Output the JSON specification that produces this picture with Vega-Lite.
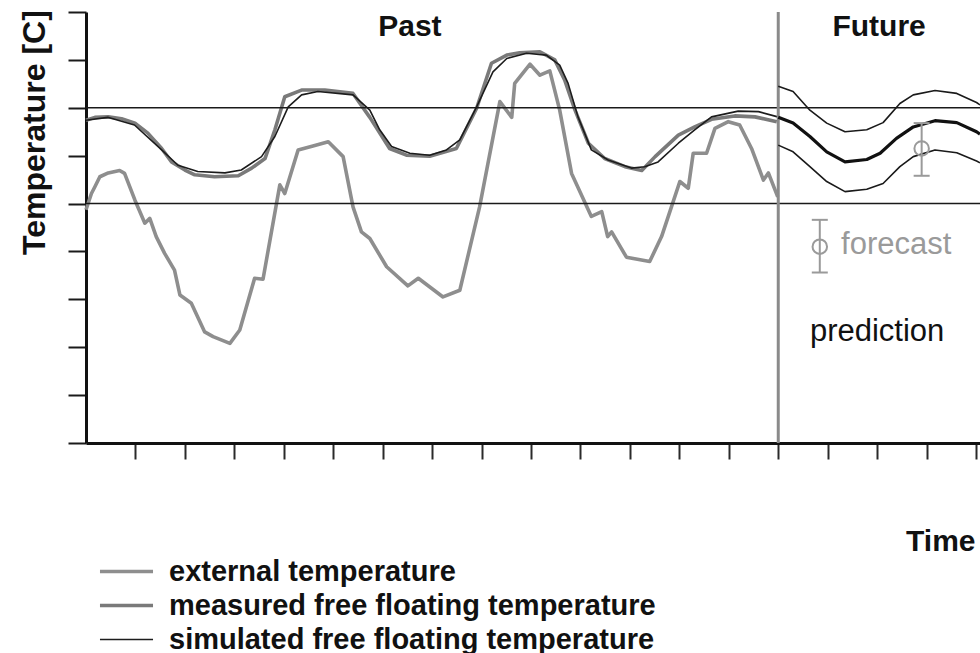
{
  "$schema": "https://vega.github.io/schema/vega-lite/v6.json",
  "width": 894,
  "height": 431,
  "autosize": {"type": "none"},
  "padding": {"left": 86, "top": 12, "right": 0, "bottom": 210},
  "background": "white",
  "config": {
    "view": {"stroke": null},
    "font": "Liberation Sans",
    "axis": {"grid": false}
  },
  "datasets": {
    "past": [
      {"series": "external temperature", "time": 0, "temp": 4.87},
      {"series": "external temperature", "time": 0.11, "temp": 5.21},
      {"series": "external temperature", "time": 0.18, "temp": 5.35},
      {"series": "external temperature", "time": 0.28, "temp": 5.56},
      {"series": "external temperature", "time": 0.45, "temp": 5.64},
      {"series": "external temperature", "time": 0.68, "temp": 5.69},
      {"series": "external temperature", "time": 0.78, "temp": 5.63},
      {"series": "external temperature", "time": 0.99, "temp": 5.07},
      {"series": "external temperature", "time": 1.19, "temp": 4.59},
      {"series": "external temperature", "time": 1.29, "temp": 4.69},
      {"series": "external temperature", "time": 1.42, "temp": 4.31},
      {"series": "external temperature", "time": 1.59, "temp": 3.96},
      {"series": "external temperature", "time": 1.79, "temp": 3.61},
      {"series": "external temperature", "time": 1.9, "temp": 3.09},
      {"series": "external temperature", "time": 2.13, "temp": 2.92},
      {"series": "external temperature", "time": 2.4, "temp": 2.32},
      {"series": "external temperature", "time": 2.57, "temp": 2.22},
      {"series": "external temperature", "time": 2.91, "temp": 2.08},
      {"series": "external temperature", "time": 3.11, "temp": 2.36},
      {"series": "external temperature", "time": 3.41, "temp": 3.44},
      {"series": "external temperature", "time": 3.58, "temp": 3.42},
      {"series": "external temperature", "time": 3.92, "temp": 5.39},
      {"series": "external temperature", "time": 4.02, "temp": 5.21},
      {"series": "external temperature", "time": 4.29, "temp": 6.12},
      {"series": "external temperature", "time": 4.59, "temp": 6.2},
      {"series": "external temperature", "time": 4.9, "temp": 6.29},
      {"series": "external temperature", "time": 5.2, "temp": 5.98},
      {"series": "external temperature", "time": 5.4, "temp": 4.93},
      {"series": "external temperature", "time": 5.57, "temp": 4.41},
      {"series": "external temperature", "time": 5.74, "temp": 4.27},
      {"series": "external temperature", "time": 6.08, "temp": 3.68},
      {"series": "external temperature", "time": 6.51, "temp": 3.28},
      {"series": "external temperature", "time": 6.72, "temp": 3.44},
      {"series": "external temperature", "time": 7.22, "temp": 3.05},
      {"series": "external temperature", "time": 7.56, "temp": 3.19},
      {"series": "external temperature", "time": 7.96, "temp": 4.93},
      {"series": "external temperature", "time": 8.37, "temp": 7.13},
      {"series": "external temperature", "time": 8.61, "temp": 6.8},
      {"series": "external temperature", "time": 8.67, "temp": 7.51},
      {"series": "external temperature", "time": 8.98, "temp": 7.91},
      {"series": "external temperature", "time": 9.18, "temp": 7.68},
      {"series": "external temperature", "time": 9.38, "temp": 7.77},
      {"series": "external temperature", "time": 9.58, "temp": 6.95},
      {"series": "external temperature", "time": 9.82, "temp": 5.63},
      {"series": "external temperature", "time": 10.22, "temp": 4.73},
      {"series": "external temperature", "time": 10.43, "temp": 4.83},
      {"series": "external temperature", "time": 10.55, "temp": 4.31},
      {"series": "external temperature", "time": 10.63, "temp": 4.41},
      {"series": "external temperature", "time": 10.93, "temp": 3.88},
      {"series": "external temperature", "time": 11.4, "temp": 3.79},
      {"series": "external temperature", "time": 11.64, "temp": 4.31},
      {"series": "external temperature", "time": 11.84, "temp": 4.93},
      {"series": "external temperature", "time": 12.01, "temp": 5.46},
      {"series": "external temperature", "time": 12.18, "temp": 5.32},
      {"series": "external temperature", "time": 12.28, "temp": 6.05},
      {"series": "external temperature", "time": 12.55, "temp": 6.05},
      {"series": "external temperature", "time": 12.72, "temp": 6.57},
      {"series": "external temperature", "time": 12.99, "temp": 6.71},
      {"series": "external temperature", "time": 13.22, "temp": 6.64},
      {"series": "external temperature", "time": 13.46, "temp": 6.15},
      {"series": "external temperature", "time": 13.7, "temp": 5.49},
      {"series": "external temperature", "time": 13.8, "temp": 5.64},
      {"series": "external temperature", "time": 13.99, "temp": 5.14},

      {"series": "measured free floating temperature", "time": 0, "temp": 6.74},
      {"series": "measured free floating temperature", "time": 0.18, "temp": 6.8},
      {"series": "measured free floating temperature", "time": 0.45, "temp": 6.81},
      {"series": "measured free floating temperature", "time": 0.72, "temp": 6.77},
      {"series": "measured free floating temperature", "time": 0.99, "temp": 6.68},
      {"series": "measured free floating temperature", "time": 1.25, "temp": 6.47},
      {"series": "measured free floating temperature", "time": 1.53, "temp": 6.15},
      {"series": "measured free floating temperature", "time": 1.73, "temp": 5.87},
      {"series": "measured free floating temperature", "time": 2.0, "temp": 5.7},
      {"series": "measured free floating temperature", "time": 2.2, "temp": 5.6},
      {"series": "measured free floating temperature", "time": 2.6, "temp": 5.56},
      {"series": "measured free floating temperature", "time": 3.08, "temp": 5.58},
      {"series": "measured free floating temperature", "time": 3.35, "temp": 5.74},
      {"series": "measured free floating temperature", "time": 3.62, "temp": 5.94},
      {"series": "measured free floating temperature", "time": 3.82, "temp": 6.54},
      {"series": "measured free floating temperature", "time": 4.02, "temp": 7.23},
      {"series": "measured free floating temperature", "time": 4.36, "temp": 7.37},
      {"series": "measured free floating temperature", "time": 4.83, "temp": 7.37},
      {"series": "measured free floating temperature", "time": 5.4, "temp": 7.3},
      {"series": "measured free floating temperature", "time": 5.74, "temp": 6.8},
      {"series": "measured free floating temperature", "time": 6.14, "temp": 6.15},
      {"series": "measured free floating temperature", "time": 6.48, "temp": 6.01},
      {"series": "measured free floating temperature", "time": 6.95, "temp": 5.99},
      {"series": "measured free floating temperature", "time": 7.49, "temp": 6.15},
      {"series": "measured free floating temperature", "time": 7.9, "temp": 6.99},
      {"series": "measured free floating temperature", "time": 8.2, "temp": 7.93},
      {"series": "measured free floating temperature", "time": 8.51, "temp": 8.1},
      {"series": "measured free floating temperature", "time": 8.77, "temp": 8.15},
      {"series": "measured free floating temperature", "time": 9.18, "temp": 8.17},
      {"series": "measured free floating temperature", "time": 9.48, "temp": 8.0},
      {"series": "measured free floating temperature", "time": 9.68, "temp": 7.58},
      {"series": "measured free floating temperature", "time": 9.89, "temp": 6.95},
      {"series": "measured free floating temperature", "time": 10.16, "temp": 6.26},
      {"series": "measured free floating temperature", "time": 10.49, "temp": 5.94},
      {"series": "measured free floating temperature", "time": 10.9, "temp": 5.77},
      {"series": "measured free floating temperature", "time": 11.24, "temp": 5.69},
      {"series": "measured free floating temperature", "time": 11.51, "temp": 5.98},
      {"series": "measured free floating temperature", "time": 11.98, "temp": 6.43},
      {"series": "measured free floating temperature", "time": 12.31, "temp": 6.6},
      {"series": "measured free floating temperature", "time": 12.65, "temp": 6.76},
      {"series": "measured free floating temperature", "time": 13.12, "temp": 6.83},
      {"series": "measured free floating temperature", "time": 13.53, "temp": 6.81},
      {"series": "measured free floating temperature", "time": 13.97, "temp": 6.71},

      {"series": "simulated free floating temperature", "time": 0, "temp": 6.74},
      {"series": "simulated free floating temperature", "time": 0.44, "temp": 6.8},
      {"series": "simulated free floating temperature", "time": 0.98, "temp": 6.64},
      {"series": "simulated free floating temperature", "time": 1.53, "temp": 6.12},
      {"series": "simulated free floating temperature", "time": 1.86, "temp": 5.8},
      {"series": "simulated free floating temperature", "time": 2.26, "temp": 5.67},
      {"series": "simulated free floating temperature", "time": 2.81, "temp": 5.64},
      {"series": "simulated free floating temperature", "time": 3.14, "temp": 5.7},
      {"series": "simulated free floating temperature", "time": 3.55, "temp": 5.98},
      {"series": "simulated free floating temperature", "time": 3.82, "temp": 6.4},
      {"series": "simulated free floating temperature", "time": 4.09, "temp": 7.02},
      {"series": "simulated free floating temperature", "time": 4.36, "temp": 7.27},
      {"series": "simulated free floating temperature", "time": 4.69, "temp": 7.34},
      {"series": "simulated free floating temperature", "time": 5.4, "temp": 7.27},
      {"series": "simulated free floating temperature", "time": 5.74, "temp": 6.95},
      {"series": "simulated free floating temperature", "time": 5.94, "temp": 6.54},
      {"series": "simulated free floating temperature", "time": 6.18, "temp": 6.19},
      {"series": "simulated free floating temperature", "time": 6.55, "temp": 6.05},
      {"series": "simulated free floating temperature", "time": 6.95, "temp": 6.01},
      {"series": "simulated free floating temperature", "time": 7.29, "temp": 6.12},
      {"series": "simulated free floating temperature", "time": 7.56, "temp": 6.33},
      {"series": "simulated free floating temperature", "time": 7.9, "temp": 7.02},
      {"series": "simulated free floating temperature", "time": 8.23, "temp": 7.75},
      {"series": "simulated free floating temperature", "time": 8.51, "temp": 8.03},
      {"series": "simulated free floating temperature", "time": 8.91, "temp": 8.14},
      {"series": "simulated free floating temperature", "time": 9.31, "temp": 8.1},
      {"series": "simulated free floating temperature", "time": 9.58, "temp": 7.89},
      {"series": "simulated free floating temperature", "time": 9.75, "temp": 7.51},
      {"series": "simulated free floating temperature", "time": 9.95, "temp": 6.81},
      {"series": "simulated free floating temperature", "time": 10.22, "temp": 6.12},
      {"series": "simulated free floating temperature", "time": 10.56, "temp": 5.91},
      {"series": "simulated free floating temperature", "time": 11.03, "temp": 5.74},
      {"series": "simulated free floating temperature", "time": 11.3, "temp": 5.77},
      {"series": "simulated free floating temperature", "time": 11.57, "temp": 5.87},
      {"series": "simulated free floating temperature", "time": 11.98, "temp": 6.26},
      {"series": "simulated free floating temperature", "time": 12.31, "temp": 6.54},
      {"series": "simulated free floating temperature", "time": 12.65, "temp": 6.81},
      {"series": "simulated free floating temperature", "time": 13.19, "temp": 6.93},
      {"series": "simulated free floating temperature", "time": 13.6, "temp": 6.92},
      {"series": "simulated free floating temperature", "time": 13.99, "temp": 6.81}
    ],
    "prediction": [
      {"band": "mid", "time": 14.0, "temp": 6.8},
      {"band": "mid", "time": 14.3, "temp": 6.68},
      {"band": "mid", "time": 14.64, "temp": 6.4},
      {"band": "mid", "time": 14.98, "temp": 6.08},
      {"band": "mid", "time": 15.35, "temp": 5.87},
      {"band": "mid", "time": 15.79, "temp": 5.92},
      {"band": "mid", "time": 16.06, "temp": 6.05},
      {"band": "mid", "time": 16.39, "temp": 6.36},
      {"band": "mid", "time": 16.73, "temp": 6.6},
      {"band": "mid", "time": 17.17, "temp": 6.73},
      {"band": "mid", "time": 17.61, "temp": 6.69},
      {"band": "mid", "time": 18.01, "temp": 6.5},
      {"band": "mid", "time": 18.08, "temp": 6.45},
      {"band": "upper", "time": 14.0, "temp": 7.45},
      {"band": "upper", "time": 14.3, "temp": 7.34},
      {"band": "upper", "time": 14.64, "temp": 6.95},
      {"band": "upper", "time": 14.98, "temp": 6.68},
      {"band": "upper", "time": 15.35, "temp": 6.5},
      {"band": "upper", "time": 15.79, "temp": 6.54},
      {"band": "upper", "time": 16.12, "temp": 6.69},
      {"band": "upper", "time": 16.46, "temp": 7.09},
      {"band": "upper", "time": 16.73, "temp": 7.27},
      {"band": "upper", "time": 17.17, "temp": 7.36},
      {"band": "upper", "time": 17.61, "temp": 7.3},
      {"band": "upper", "time": 18.01, "temp": 7.11},
      {"band": "upper", "time": 18.08, "temp": 7.06},
      {"band": "lower", "time": 14.0, "temp": 6.22},
      {"band": "lower", "time": 14.3, "temp": 6.08},
      {"band": "lower", "time": 14.64, "temp": 5.77},
      {"band": "lower", "time": 14.98, "temp": 5.46},
      {"band": "lower", "time": 15.35, "temp": 5.25},
      {"band": "lower", "time": 15.79, "temp": 5.3},
      {"band": "lower", "time": 16.12, "temp": 5.42},
      {"band": "lower", "time": 16.46, "temp": 5.77},
      {"band": "lower", "time": 16.73, "temp": 5.98},
      {"band": "lower", "time": 17.17, "temp": 6.12},
      {"band": "lower", "time": 17.61, "temp": 6.06},
      {"band": "lower", "time": 18.01, "temp": 5.89},
      {"band": "lower", "time": 18.08, "temp": 5.85}
    ],
    "forecast": [
      {"time": 16.9, "temp": 6.15, "lo": 5.58, "hi": 6.68},
      {"time": 14.84, "temp": 4.1, "lo": 3.56, "hi": 4.66}
    ],
    "levels": [{"temp": 5}, {"temp": 7}],
    "now": [{"time": 14}],
    "headings": [
      {"label": "Past", "time": 6.55, "temp": 8.5},
      {"label": "Future", "time": 16.04, "temp": 8.5}
    ],
    "forecastNote": [{"label": "forecast", "time": 15.27, "temp": 3.95}],
    "predictionNote": [{"label": "prediction", "time": 14.64, "temp": 2.12}]
  },
  "layer": [
    {
      "data": {"name": "past"},
      "mark": {"type": "line", "strokeJoin": "round", "strokeCap": "butt"},
      "encoding": {
        "x": {
          "field": "time", "type": "quantitative",
          "scale": {"domain": [0, 18.08], "nice": false, "zero": false},
          "axis": {
            "values": [1, 2, 3, 4, 5, 6, 7, 8, 9, 10, 11, 12, 13, 14, 15, 16, 17, 18],
            "labels": false, "grid": false,
            "tickSize": 16, "tickWidth": 2, "tickColor": "#2a2a2a",
            "domainColor": "#111111", "domainWidth": 3,
            "title": "Time", "titleFont": "Liberation Sans", "titleFontSize": 30, "titleFontWeight": "bold",
            "titleColor": "#111111", "titleAnchor": "end", "titleAlign": "right",
            "titleBaseline": "alphabetic", "titleX": 889, "titleY": 107
          }
        },
        "y": {
          "field": "temp", "type": "quantitative",
          "scale": {"domain": [0, 9], "nice": false},
          "axis": {
            "values": [0, 1, 2, 3, 4, 5, 6, 7, 8, 9],
            "labels": false, "grid": false,
            "tickSize": 18, "tickWidth": 2, "tickColor": "#1a1a1a",
            "domainColor": "#111111", "domainWidth": 3,
            "title": "Temperature [C]", "titleFont": "Liberation Sans", "titleFontSize": 32, "titleFontWeight": "bold",
            "titleColor": "#111111", "titleAngle": 270, "titleAlign": "center",
            "titleBaseline": "alphabetic", "titleX": -42, "titleY": 120
          }
        },
        "color": {
          "field": "series", "type": "nominal",
          "scale": {
            "domain": ["external temperature", "measured free floating temperature", "simulated free floating temperature"],
            "range": ["#8e8e8e", "#7a7a7a", "#1c1c1c"]
          },
          "legend": {
            "orient": "none", "legendX": 26, "legendY": 545, "title": null, "padding": 0,
            "symbolType": "M-2.5,0H2.5", "symbolSize": 450, "symbolOpacity": 1,
            "labelFont": "Liberation Sans", "labelFontSize": 29, "labelFontWeight": "bold", "labelColor": "#111111",
            "labelOffset": 28, "labelLimit": 800, "rowPadding": 4
          }
        },
        "strokeWidth": {
          "field": "series", "type": "nominal",
          "scale": {
            "type": "ordinal",
            "domain": ["external temperature", "measured free floating temperature", "simulated free floating temperature"],
            "range": [3.6, 3.6, 1.6]
          },
          "legend": {
            "orient": "none", "legendX": 26, "legendY": 545, "title": null, "padding": 0,
            "symbolType": "M-2.5,0H2.5", "symbolSize": 450, "symbolOpacity": 1,
            "labelFont": "Liberation Sans", "labelFontSize": 29, "labelFontWeight": "bold", "labelColor": "#111111",
            "labelOffset": 28, "labelLimit": 800, "rowPadding": 4
          }
        }
      }
    },
    {
      "data": {"name": "levels"},
      "mark": {"type": "rule", "color": "#1a1a1a", "strokeWidth": 1.6},
      "encoding": {
        "y": {"field": "temp", "type": "quantitative"}
      }
    },
    {
      "data": {"name": "now"},
      "mark": {"type": "rule", "color": "#8a8a8a", "strokeWidth": 3},
      "encoding": {
        "x": {"field": "time", "type": "quantitative"}
      }
    },
    {
      "data": {"name": "prediction"},
      "transform": [{"filter": "datum.band !== 'mid'"}],
      "mark": {"type": "line", "color": "#1a1a1a", "strokeWidth": 1.6, "strokeJoin": "round"},
      "encoding": {
        "x": {"field": "time", "type": "quantitative"},
        "y": {"field": "temp", "type": "quantitative"},
        "detail": {"field": "band", "type": "nominal"}
      }
    },
    {
      "data": {"name": "prediction"},
      "transform": [{"filter": "datum.band === 'mid'"}],
      "mark": {"type": "line", "color": "#111111", "strokeWidth": 3.2, "strokeJoin": "round"},
      "encoding": {
        "x": {"field": "time", "type": "quantitative"},
        "y": {"field": "temp", "type": "quantitative"}
      }
    },
    {
      "data": {"name": "forecast"},
      "mark": {"type": "rule", "color": "#9a9a9a", "strokeWidth": 2},
      "encoding": {
        "x": {"field": "time", "type": "quantitative"},
        "y": {"field": "lo", "type": "quantitative"},
        "y2": {"field": "hi"}
      }
    },
    {
      "data": {"name": "forecast"},
      "mark": {"type": "tick", "orient": "horizontal", "color": "#9a9a9a", "size": 16, "thickness": 2, "opacity": 1},
      "encoding": {
        "x": {"field": "time", "type": "quantitative"},
        "y": {"field": "lo", "type": "quantitative"}
      }
    },
    {
      "data": {"name": "forecast"},
      "mark": {"type": "tick", "orient": "horizontal", "color": "#9a9a9a", "size": 16, "thickness": 2, "opacity": 1},
      "encoding": {
        "x": {"field": "time", "type": "quantitative"},
        "y": {"field": "hi", "type": "quantitative"}
      }
    },
    {
      "data": {"name": "forecast"},
      "mark": {"type": "point", "shape": "circle", "filled": false, "size": 210, "strokeWidth": 2, "color": "#9a9a9a", "opacity": 1},
      "encoding": {
        "x": {"field": "time", "type": "quantitative"},
        "y": {"field": "temp", "type": "quantitative"}
      }
    },
    {
      "data": {"name": "headings"},
      "mark": {"type": "text", "font": "Liberation Sans", "fontSize": 30, "fontWeight": "bold", "align": "center", "baseline": "alphabetic", "color": "#111111"},
      "encoding": {
        "x": {"field": "time", "type": "quantitative"},
        "y": {"field": "temp", "type": "quantitative"},
        "text": {"field": "label"}
      }
    },
    {
      "data": {"name": "forecastNote"},
      "mark": {"type": "text", "font": "Liberation Sans", "fontSize": 31, "align": "left", "baseline": "alphabetic", "color": "#9a9a9a"},
      "encoding": {
        "x": {"field": "time", "type": "quantitative"},
        "y": {"field": "temp", "type": "quantitative"},
        "text": {"field": "label"}
      }
    },
    {
      "data": {"name": "predictionNote"},
      "mark": {"type": "text", "font": "Liberation Sans", "fontSize": 31, "align": "left", "baseline": "alphabetic", "color": "#111111"},
      "encoding": {
        "x": {"field": "time", "type": "quantitative"},
        "y": {"field": "temp", "type": "quantitative"},
        "text": {"field": "label"}
      }
    }
  ]
}
